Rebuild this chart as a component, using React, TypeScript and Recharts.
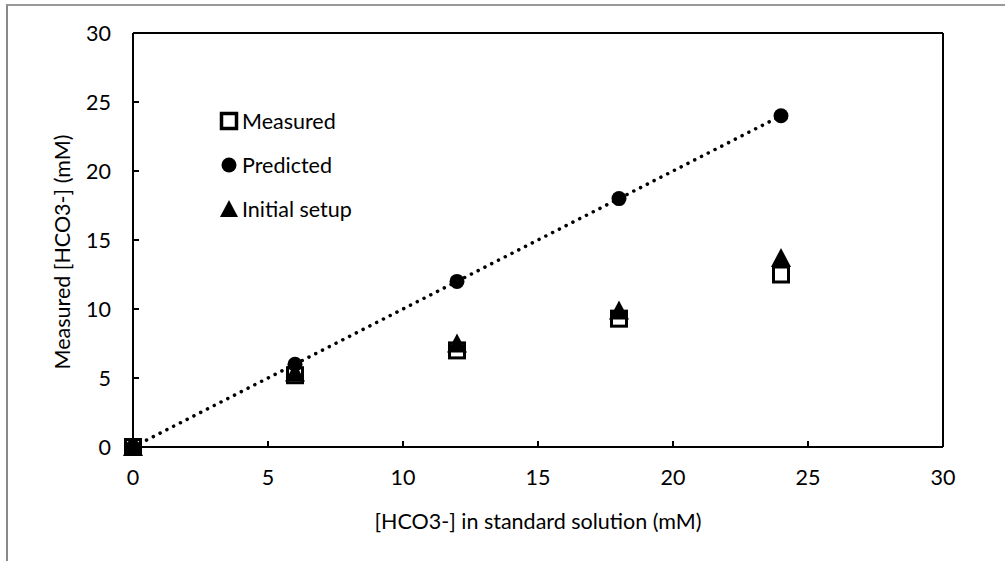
import React from 'react';
import { ComposedChart, Scatter, XAxis, YAxis, ReferenceLine, Legend } from 'recharts';

const xValues = [0, 6, 12, 18, 24];
const measured = [0, 5.2, 7.0, 9.3, 12.5];
const predicted = [0, 6, 12, 18, 24];
const initialSetup = [0, 5.4, 7.5, 9.9, 13.7];
const xTicks = [0, 5, 10, 15, 20, 25, 30];
const yTicks = [0, 5, 10, 15, 20, 25, 30];
const seriesNames = ['Measured', 'Predicted', 'Initial setup'];
const xTitle = '[HCO3-] in standard solution (mM)';
const yTitle = 'Measured [HCO3-] (mM)';

const FONT = 'Lato, "Open Sans", sans-serif';
const FS = 21.5;

const toPoints = (ys: number[]) => xValues.map((x, i) => ({ x, y: ys[i] }));
const measuredData = toPoints(measured);
const predictedData = toPoints(predicted);
const initialData = toPoints(initialSetup);

const SquareShape = (p: any) => (
  <rect x={p.cx - 7.5} y={p.cy - 7.5} width={15} height={15} fill="#fff" stroke="#000" strokeWidth={3} />
);
const CircleShape = (p: any) => <circle cx={p.cx} cy={p.cy} r={7.5} fill="#000" />;
const TriangleShape = (p: any) => (
  <polygon points={`${p.cx},${p.cy - 10} ${p.cx + 10},${p.cy + 9} ${p.cx - 10},${p.cy + 9}`} fill="#000" />
);
const NoShape = () => <g />;

const XTick = (p: any) => (
  <g>
    <line x1={p.x} x2={p.x} y1={p.y} y2={p.y - 6} stroke="#000" strokeWidth={2} />
    <text x={p.x} y={p.y + 38} textAnchor="middle" fontFamily={FONT} fontSize={FS} fill="#000">
      {p.payload.value}
    </text>
  </g>
);
const YTick = (p: any) => (
  <g>
    <line x1={p.x} x2={p.x + 6} y1={p.y} y2={p.y} stroke="#000" strokeWidth={2} />
    <text x={p.x - 22} y={p.y + 7.5} textAnchor="end" fontFamily={FONT} fontSize={FS} fill="#000">
      {p.payload.value}
    </text>
  </g>
);

const markerFor = (i: number) => {
  if (i === 0) return <rect x={2.5} y={2.5} width={15} height={15} fill="#fff" stroke="#000" strokeWidth={3.5} />;
  if (i === 1) return <circle cx={10} cy={10} r={7.5} fill="#000" />;
  return <polygon points="10,1 19,18 1,18" fill="#000" />;
};

const LegendContent = () => (
  <div style={{ fontFamily: FONT, fontSize: FS, color: '#000' }}>
    {seriesNames.map((n, i) => (
      <div key={n} style={{ display: 'flex', alignItems: 'center', height: 44 }}>
        <svg width={20} height={20} style={{ marginRight: 3 }}>
          {markerFor(i)}
        </svg>
        <span>{n}</span>
      </div>
    ))}
  </div>
);

export default function App() {
  return (
    <div style={{ position: 'absolute', left: 0, top: 0, width: 1005, height: 561, overflow: 'hidden', background: '#fff' }}>
      <div
        style={{
          position: 'absolute',
          left: 6,
          top: 4,
          width: 1100,
          height: 700,
          borderLeft: '2px solid #888',
          borderTop: '2px solid #999',
        }}
      />
      <ComposedChart
        width={1005}
        height={561}
        margin={{ left: 73, right: 62, top: 33, bottom: 54 }}
        style={{ position: 'absolute', left: 0, top: 0 }}
      >
        <XAxis
          type="number"
          dataKey="x"
          domain={[0, 30]}
          ticks={xTicks}
          height={60}
          tickLine={false}
          tickSize={0}
          tickMargin={0}
          tick={<XTick />}
          axisLine={{ stroke: '#000', strokeWidth: 2 }}
          label={{
            content: (lp: any) => {
              const vb = lp.viewBox;
              return (
                <text x={vb.x + vb.width / 2} y={vb.y + 82} textAnchor="middle" fontFamily={FONT} fontSize={FS} fill="#000">
                  {xTitle}
                </text>
              );
            },
          }}
        />
        <YAxis
          type="number"
          dataKey="y"
          domain={[0, 30]}
          ticks={yTicks}
          width={60}
          tickLine={false}
          tickSize={0}
          tickMargin={0}
          tick={<YTick />}
          axisLine={{ stroke: '#000', strokeWidth: 2 }}
          label={{
            content: (lp: any) => {
              const vb = lp.viewBox;
              const cx = 62;
              const cy = vb.y + vb.height / 2 + 12;
              return (
                <text
                  x={cx}
                  y={cy}
                  transform={`rotate(-90 ${cx} ${cy})`}
                  textAnchor="middle"
                  dominantBaseline="central"
                  fontFamily={FONT}
                  fontSize={FS}
                  fill="#000"
                >
                  {yTitle}
                </text>
              );
            },
          }}
        />
        <ReferenceLine y={30} stroke="#000" strokeWidth={2} />
        <ReferenceLine x={30} stroke="#000" strokeWidth={2} />
        <Scatter
          name="trend"
          data={predictedData}
          shape={<NoShape />}
          line={{ stroke: '#000', strokeWidth: 3.5, strokeDasharray: '0.1 7.5', strokeLinecap: 'round' }}
          legendType="none"
          isAnimationActive={false}
        />
        <Scatter name={seriesNames[0]} data={measuredData} shape={<SquareShape />} isAnimationActive={false} />
        <Scatter name={seriesNames[1]} data={predictedData} shape={<CircleShape />} isAnimationActive={false} />
        <Scatter name={seriesNames[2]} data={initialData} shape={<TriangleShape />} isAnimationActive={false} />
        <Legend
          layout="vertical"
          align="center"
          verticalAlign="middle"
          content={<LegendContent />}
          wrapperStyle={{ left: 219, top: 99, width: 220, height: 140 }}
        />
      </ComposedChart>
    </div>
  );
}
